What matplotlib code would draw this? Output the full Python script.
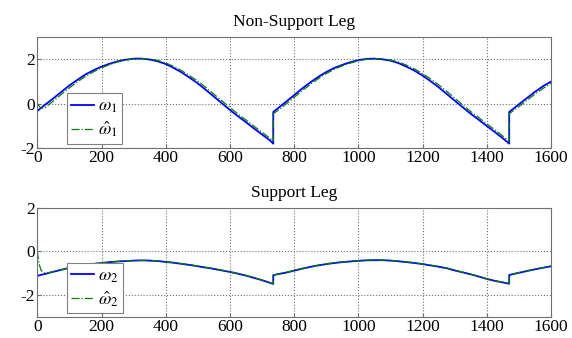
import matplotlib
matplotlib.use("Agg")
import matplotlib.pyplot as plt
import numpy as np

plt.rcParams["font.family"] = ["Liberation Serif", "DejaVu Serif"]
plt.rcParams["mathtext.fontset"] = "stix"
plt.rcParams["axes.unicode_minus"] = False

# time samples (shared by all four series); jumps at 735 and 1470
t_seg_a = [0, 5, 12, 25, 50, 75, 100, 125, 150, 175, 200, 225, 250, 275, 300, 325,
           350, 375, 400, 425, 450, 475, 500, 525, 550, 575, 600, 625, 650, 675, 700, 725, 735]
t_seg_b = [735, 750, 775, 800, 825, 850, 875, 900, 925, 950, 975, 1000, 1025, 1050, 1075,
           1100, 1125, 1150, 1175, 1200, 1225, 1250, 1275, 1300, 1325, 1350, 1375, 1400,
           1425, 1450, 1470]
t_seg_c = [1470, 1500, 1525, 1550, 1575, 1600]
t = t_seg_a + t_seg_b + t_seg_c

# non-support leg
w1 = [-0.33, -0.27, -0.19, -0.04, 0.24, 0.53, 0.82, 1.07, 1.31, 1.50, 1.66, 1.79, 1.90, 1.97,
      2.02, 2.02, 1.98, 1.90, 1.78, 1.60, 1.40, 1.16, 0.91, 0.62, 0.32, 0.02, -0.28, -0.56,
      -0.83, -1.11, -1.38, -1.65, -1.79,
      -0.37, -0.20, 0.09, 0.38, 0.68, 0.95, 1.20, 1.42, 1.60, 1.74, 1.86, 1.95, 2.01, 2.02,
      1.99, 1.93, 1.82, 1.66, 1.48, 1.26, 1.01, 0.74, 0.44, 0.14, -0.16, -0.45, -0.72, -1.00,
      -1.27, -1.55, -1.79,
      -0.37, -0.03, 0.25, 0.53, 0.78, 0.99]
w1_hat = [0.00, -0.10, -0.20, -0.17, 0.12, 0.42, 0.71, 0.98, 1.22, 1.43, 1.61, 1.75, 1.87,
          1.95, 2.01, 2.03, 2.00, 1.94, 1.83, 1.67, 1.48, 1.25, 1.01, 0.73, 0.43, 0.13, -0.17,
          -0.46, -0.73, -1.01, -1.28, -1.55, -1.68,
          -0.45, -0.30, -0.01, 0.28, 0.58, 0.86, 1.12, 1.35, 1.54, 1.70, 1.82, 1.92, 1.99,
          2.02, 2.01, 1.96, 1.87, 1.73, 1.56, 1.35, 1.11, 0.85, 0.56, 0.25, -0.05, -0.35,
          -0.62, -0.90, -1.17, -1.45, -1.68,
          -0.45, -0.13, 0.15, 0.43, 0.68, 0.91]

# support leg
w2 = [-1.13, -1.11, -1.08, -1.04, -0.94, -0.85, -0.76, -0.69, -0.63, -0.58, -0.54, -0.50,
      -0.47, -0.45, -0.43, -0.42, -0.43, -0.45, -0.49, -0.53, -0.58, -0.63, -0.69, -0.75,
      -0.81, -0.88, -0.95, -1.03, -1.12, -1.22, -1.33, -1.45, -1.50,
      -1.10, -1.05, -0.98, -0.89, -0.80, -0.72, -0.65, -0.59, -0.54, -0.50, -0.47, -0.44,
      -0.42, -0.41, -0.41, -0.43, -0.46, -0.50, -0.54, -0.59, -0.65, -0.71, -0.78, -0.88,
      -0.97, -1.06, -1.16, -1.27, -1.36, -1.43, -1.49,
      -1.09, -0.99, -0.91, -0.83, -0.76, -0.69]
w2_hat = [0.00, -0.55, -0.88, -1.02, -0.94, -0.85, -0.76, -0.68, -0.62, -0.57, -0.53, -0.50,
          -0.47, -0.44, -0.43, -0.42, -0.42, -0.44, -0.48, -0.52, -0.57, -0.62, -0.68, -0.74,
          -0.80, -0.87, -0.94, -1.02, -1.11, -1.21, -1.32, -1.44, -1.49,
          -1.09, -1.05, -0.97, -0.88, -0.79, -0.71, -0.64, -0.58, -0.53, -0.49, -0.46, -0.43,
          -0.41, -0.40, -0.41, -0.42, -0.45, -0.49, -0.53, -0.58, -0.64, -0.70, -0.77, -0.87,
          -0.96, -1.05, -1.15, -1.26, -1.35, -1.42, -1.48,
          -1.08, -0.98, -0.90, -0.82, -0.75, -0.68]

panels = [
    ("Non-Support Leg", w1, w1_hat, r"$\omega_1$", r"$\hat{\omega}_1$", (-2, 3),
     [0.0652, 0.5612, 0.898, 0.330], 0.039),
    ("Support Leg", w2, w2_hat, r"$\omega_2$", r"$\hat{\omega}_2$", (-3, 2),
     [0.0652, 0.0632, 0.898, 0.3225], 0.030),
]

fig = plt.figure(figsize=(5.72, 3.38), dpi=100)
for title, real, est, lab_r, lab_e, ylim, rect, leg_y in panels:
    ax = fig.add_axes(rect)
    ax.plot(t, real, color="#0000ff", lw=1.3, label=lab_r)
    ax.plot(t, est, color="#008000", lw=0.9, ls="-.", label=lab_e)
    ax.set_xlim(0, 1600)
    ax.set_ylim(*ylim)
    ax.set_xticks(np.arange(0, 1601, 200))
    ax.set_yticks([-2, 0, 2])
    ax.grid(True, ls=":", color="#707070", lw=0.8)
    ax.tick_params(direction="in", length=3, labelsize=12.5, color="#707070")
    ax.tick_params(axis="x", pad=1.5)
    ax.tick_params(axis="y", pad=2)
    for sp in ax.spines.values():
        sp.set_color("#707070")
    ax.set_title(title, fontsize=12.5, pad=8)
    leg = ax.legend(loc="lower left", bbox_to_anchor=(0.057, leg_y), fontsize=13,
                    fancybox=False, framealpha=1, edgecolor="#808080",
                    handlelength=1.25, handletextpad=0.25, borderpad=0.25,
                    labelspacing=0.25, borderaxespad=0)
    leg.get_frame().set_linewidth(0.8)

fig.savefig("out.png", dpi=100)
